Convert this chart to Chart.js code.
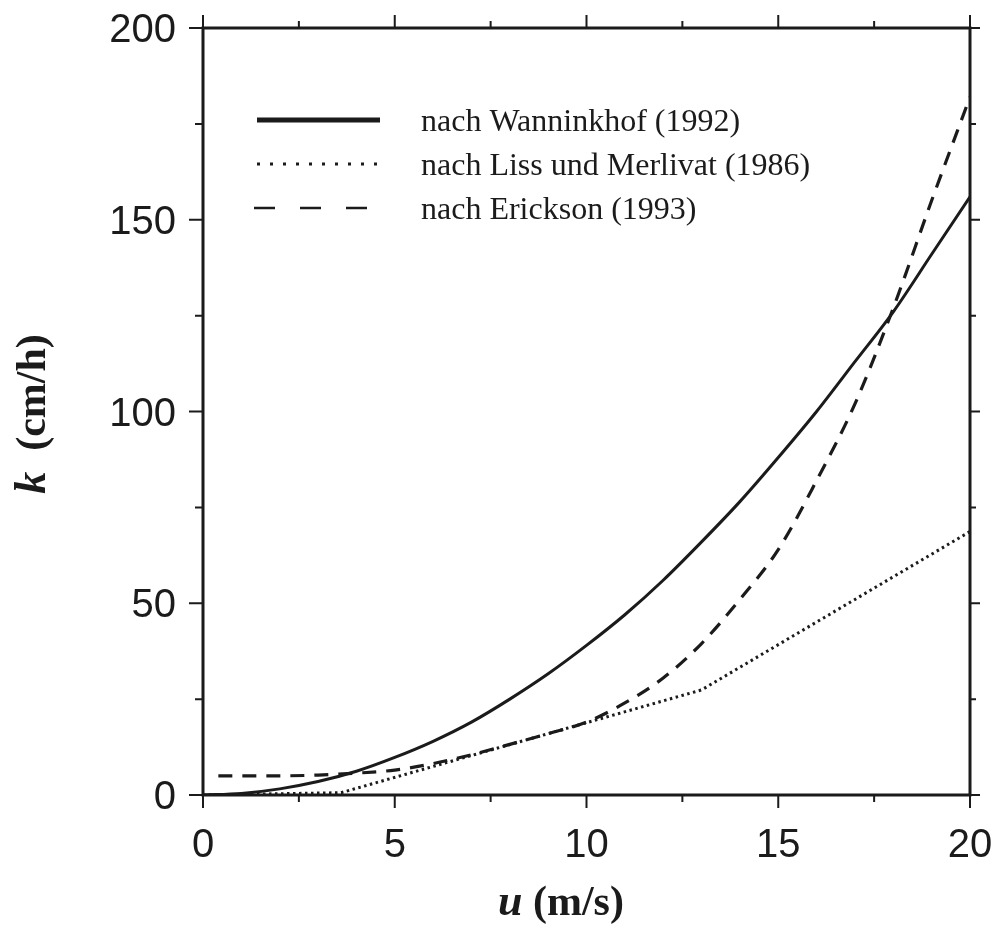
<!DOCTYPE html>
<html>
<head>
<meta charset="utf-8">
<script src="https://cdn.jsdelivr.net/npm/chart.js@4.4.1/dist/chart.umd.min.js"></script>
<style>
  html, body { margin: 0; padding: 0; background: #ffffff; }
  #wrap { width: 999px; height: 926px; position: relative; }
</style>
</head>
<body>
<div id="wrap"><canvas id="c" width="999" height="926"></canvas></div>
<script>
// ---- Data ----
const xTickValues = [0, 5, 10, 15, 20];
const yTickValues = [0, 50, 100, 150, 200];

const seriesNames = ["nach Wanninkhof (1992)", "nach Liss und Merlivat (1986)", "nach Erickson (1993)"];

const wanninkhofU = [0, 1, 2, 3, 4, 5, 6, 7, 8, 9, 10, 11, 12, 13, 14, 15, 16, 17, 18, 19, 20];
const wanninkhofK = [0, 0.4, 1.6, 3.5, 6.2, 9.8, 14, 19, 25, 31.6, 39, 47, 56, 66, 76.5, 88, 100, 113, 126, 141, 156];

const lissU = [0, 3.6, 13, 20];
const lissK = [0, 0.6, 27.4, 68.7];

const ericksonU = [0.4, 1, 2, 3, 4, 5, 6, 7, 8, 9, 10, 11, 12, 13, 14, 15, 16, 17, 18, 19, 20];
const ericksonK = [5, 5, 5, 5.2, 5.7, 6.5, 8.2, 10.5, 13.2, 16, 19, 24, 30.5, 39.5, 51, 64, 82, 102, 127, 155, 182];

const xTitle = ["u", " (m/s)"];
const yTitle = ["k", "  (cm/h)"];

function pts(xs, ys) { return xs.map((x, i) => ({ x: x, y: ys[i] })); }

const INK = "#1b1b1b";
const TICK_FONT = "40px 'Liberation Sans', Arial, sans-serif";

const framePlugin = {
  id: "frame",
  afterDraw(chart) {
    const ctx = chart.ctx;
    const a = chart.chartArea;
    const xs = chart.scales.x, ys = chart.scales.y;
    ctx.save();
    ctx.strokeStyle = INK;
    ctx.fillStyle = INK;
    ctx.lineCap = "butt";
    // frame
    ctx.lineWidth = 3;
    ctx.strokeRect(a.left, a.top, a.right - a.left, a.bottom - a.top);
    // ticks
    ctx.lineWidth = 2;
    for (let v = 0; v <= 20.001; v += 2.5) {
      const p = xs.getPixelForValue(v);
      const major = Math.abs(v % 5) < 1e-6;
      const L = major ? 13 : 7;
      ctx.beginPath();
      ctx.moveTo(p, a.bottom); ctx.lineTo(p, a.bottom + L);
      ctx.moveTo(p, a.top); ctx.lineTo(p, a.top - L);
      ctx.stroke();
    }
    for (let v = 0; v <= 200.001; v += 25) {
      const p = ys.getPixelForValue(v);
      const major = Math.abs(v % 50) < 1e-6;
      const L = major ? 14 : 8;
      ctx.beginPath();
      ctx.moveTo(a.left, p); ctx.lineTo(a.left - L, p);
      ctx.moveTo(a.right, p); ctx.lineTo(a.right + (major ? 10 : 6), p);
      ctx.stroke();
    }
    // tick labels
    ctx.font = TICK_FONT;
    ctx.textBaseline = "alphabetic";
    ctx.textAlign = "center";
    xTickValues.forEach(v => ctx.fillText(String(v), xs.getPixelForValue(v), 857));
    ctx.textAlign = "right";
    yTickValues.forEach(v => ctx.fillText(String(v), 176, ys.getPixelForValue(v) + 14));

    // legend
    const lx0 = 257, lx1 = 380, tx = 421;
    const rows = [120, 164, 208];
    ctx.lineWidth = 5;
    ctx.setLineDash([]);
    ctx.beginPath(); ctx.moveTo(lx0, rows[0]); ctx.lineTo(lx1, rows[0]); ctx.stroke();
    ctx.lineWidth = 3;
    ctx.setLineDash([3, 10]);
    ctx.beginPath(); ctx.moveTo(lx0, rows[1]); ctx.lineTo(lx1 + 2, rows[1]); ctx.stroke();
    ctx.lineWidth = 2.5;
    ctx.setLineDash([21, 25]);
    ctx.beginPath(); ctx.moveTo(254, rows[2]); ctx.lineTo(370, rows[2]); ctx.stroke();
    ctx.setLineDash([]);

    ctx.font = "32px 'Liberation Serif', 'Times New Roman', serif";
    ctx.textBaseline = "middle";
    ctx.textAlign = "left";
    seriesNames.forEach((n, i) => ctx.fillText(n, tx, rows[i] + 3));

    // x title
    ctx.textBaseline = "alphabetic";
    const fI = "italic bold 44px 'Liberation Serif', serif";
    const fB = "bold 42px 'Liberation Serif', serif";
    ctx.font = fI; const w0 = ctx.measureText(xTitle[0]).width;
    ctx.font = fB;
    const sx = 498, by = 915;
    ctx.font = fI; ctx.fillText(xTitle[0], sx, by);
    ctx.font = fB; ctx.fillText(xTitle[1], sx + w0, by);

    // y title (rotated)
    ctx.font = fI; const v0 = ctx.measureText(yTitle[0]).width;
    ctx.font = fB; const v1 = ctx.measureText(yTitle[1]).width;
    ctx.translate(45, 414);
    ctx.rotate(-Math.PI / 2);
    const sy = -(v0 + v1) / 2;
    ctx.font = fI; ctx.fillText(yTitle[0], sy, 0);
    ctx.font = fB; ctx.fillText(yTitle[1], sy + v0, 0);
    ctx.restore();
  }
};

new Chart(document.getElementById("c"), {
  type: "line",
  data: {
    datasets: [
      { label: seriesNames[0], data: pts(wanninkhofU, wanninkhofK), borderColor: INK, borderWidth: 3,
        pointRadius: 0, cubicInterpolationMode: "monotone", fill: false },
      { label: seriesNames[1], data: pts(lissU, lissK), borderColor: INK, borderWidth: 3,
        borderDash: [2.5, 3.5], pointRadius: 0, tension: 0, fill: false },
      { label: seriesNames[2], data: pts(ericksonU, ericksonK), borderColor: INK, borderWidth: 3.2,
        borderDash: [14, 10], pointRadius: 0, cubicInterpolationMode: "monotone", fill: false }
    ]
  },
  options: {
    responsive: false,
    animation: false,
    devicePixelRatio: 1,
    layout: { padding: { top: 28, right: 29, left: 0, bottom: 0 } },
    plugins: { legend: { display: false }, tooltip: { enabled: false } },
    scales: {
      x: {
        type: "linear", min: 0, max: 20,
        grid: { display: false }, border: { display: false },
        afterFit: (s) => { s.height = 131; },
        ticks: { display: false }
      },
      y: {
        type: "linear", min: 0, max: 200,
        grid: { display: false }, border: { display: false },
        afterFit: (s) => { s.width = 203; },
        ticks: { display: false }
      }
    }
  },
  plugins: [framePlugin]
});
</script>
</body>
</html>
